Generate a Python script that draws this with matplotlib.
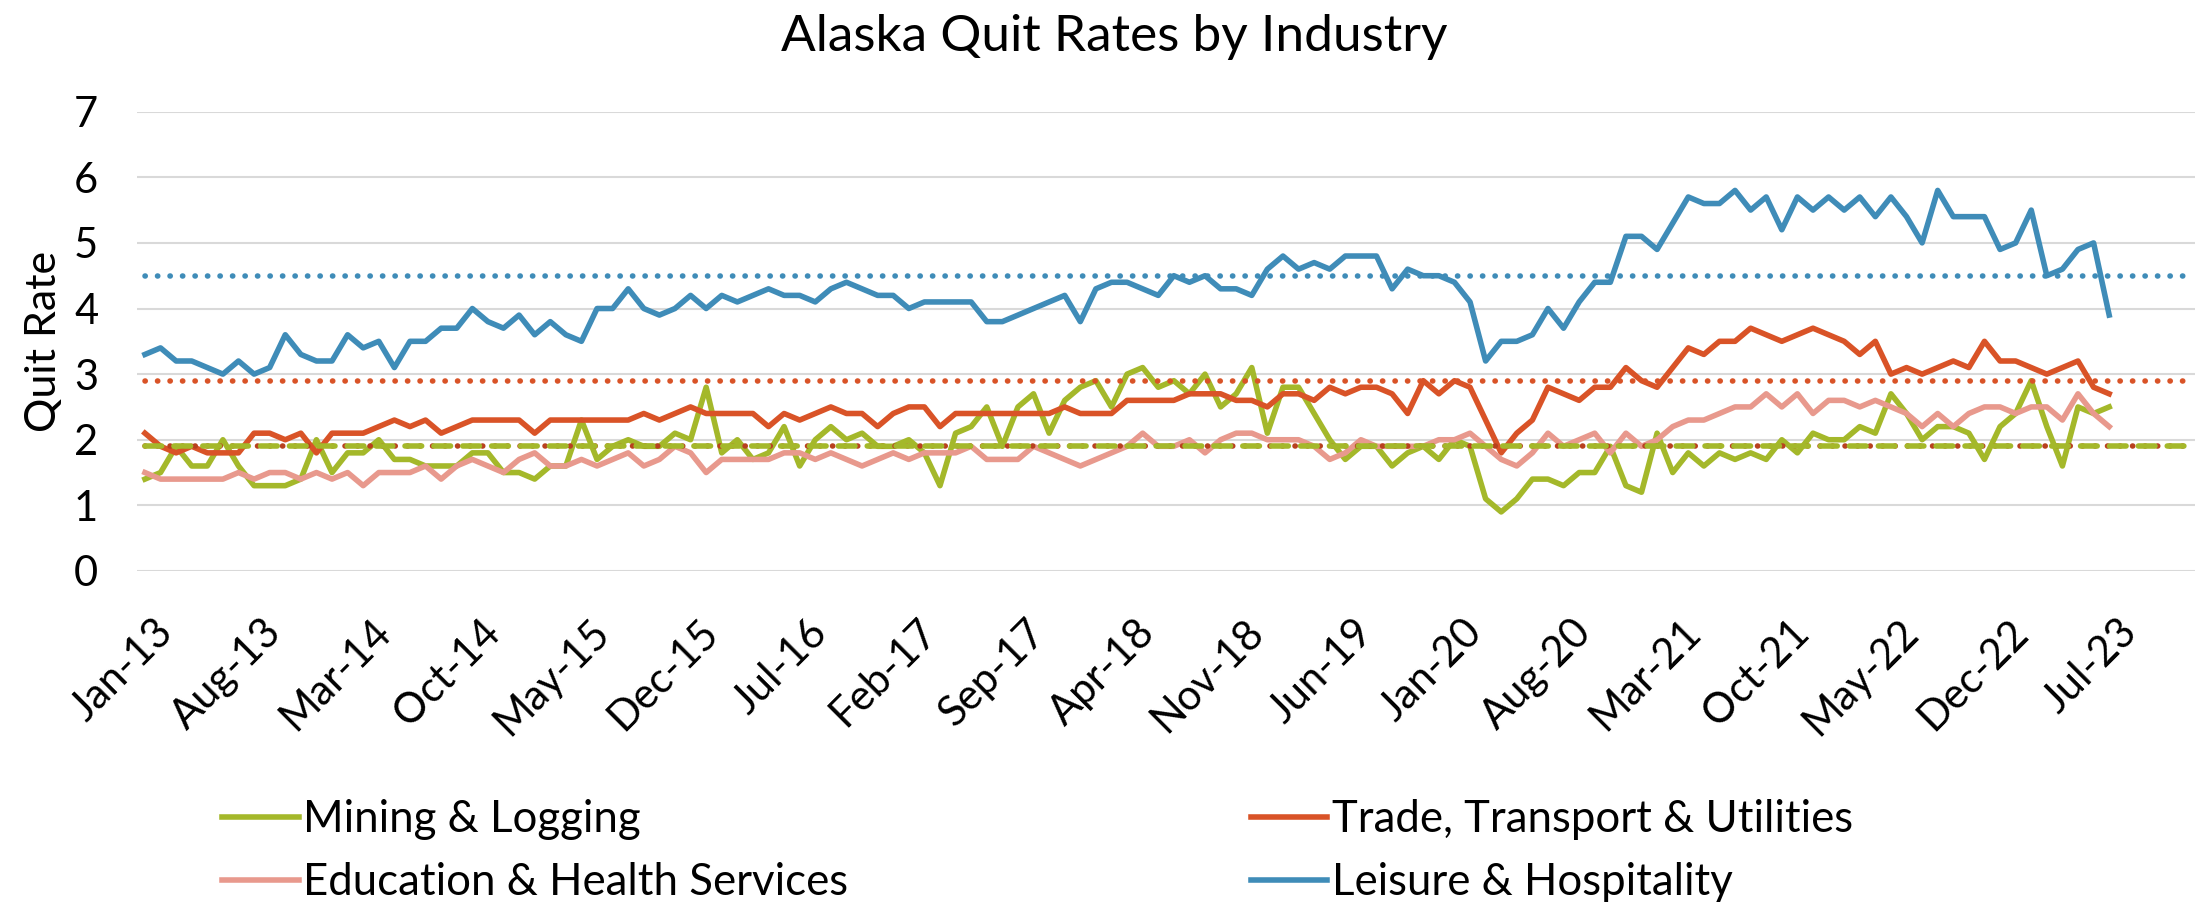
import matplotlib
matplotlib.use("Agg")
import matplotlib.pyplot as plt
import matplotlib.transforms as mtransforms
import numpy as np

# Monthly quit rates, Jan-13 .. Jul-23
mining = [1.4, 1.5, 1.9, 1.6, 1.6, 2.0, 1.6, 1.3, 1.3, 1.3, 1.4, 2.0, 1.5, 1.8, 1.8, 2.0, 1.7, 1.7, 1.6, 1.6, 1.6, 1.8,
          1.8, 1.5, 1.5, 1.4, 1.6, 1.6, 2.3, 1.7, 1.9, 2.0, 1.9, 1.9, 2.1, 2.0, 2.8, 1.8, 2.0, 1.7, 1.8, 2.2,
          1.6, 2.0, 2.2, 2.0, 2.1, 1.9, 1.9, 2.0, 1.8, 1.3, 2.1, 2.2, 2.5, 1.9, 2.5, 2.7, 2.1, 2.6, 2.8, 2.9, 2.5,
          3.0, 3.1, 2.8, 2.9, 2.7, 3.0, 2.5, 2.7, 3.1, 2.1, 2.8, 2.8, 2.4, 2.0, 1.7, 1.9, 1.9, 1.6, 1.8, 1.9, 1.7,
          2.0, 1.9, 1.1, 0.9, 1.1, 1.4, 1.4, 1.3, 1.5, 1.5, 1.9, 1.3, 1.2, 2.1, 1.5, 1.8, 1.6, 1.8, 1.7, 1.8, 1.7,
          2.0, 1.8, 2.1, 2.0, 2.0, 2.2, 2.1, 2.7, 2.4, 2.0, 2.2, 2.2, 2.1, 1.7, 2.2, 2.4, 2.9, 2.2, 1.6, 2.5, 2.4, 2.5]

trade = [2.1, 1.9, 1.8, 1.9, 1.8, 1.8, 1.8, 2.1, 2.1, 2.0, 2.1, 1.8, 2.1, 2.1, 2.1, 2.2, 2.3, 2.2, 2.3, 2.1, 2.2, 2.3,
         2.3, 2.3, 2.3, 2.1, 2.3, 2.3, 2.3, 2.3, 2.3, 2.3, 2.4, 2.3, 2.4, 2.5, 2.4, 2.4, 2.4, 2.4, 2.2, 2.4,
         2.3, 2.4, 2.5, 2.4, 2.4, 2.2, 2.4, 2.5, 2.5, 2.2, 2.4, 2.4, 2.4, 2.4, 2.4, 2.4, 2.4, 2.5, 2.4, 2.4, 2.4,
         2.6, 2.6, 2.6, 2.6, 2.7, 2.7, 2.7, 2.6, 2.6, 2.5, 2.7, 2.7, 2.6, 2.8, 2.7, 2.8, 2.8, 2.7, 2.4, 2.9, 2.7,
         2.9, 2.8, 2.3, 1.8, 2.1, 2.3, 2.8, 2.7, 2.6, 2.8, 2.8, 3.1, 2.9, 2.8, 3.1, 3.4, 3.3, 3.5, 3.5, 3.7, 3.6,
         3.5, 3.6, 3.7, 3.6, 3.5, 3.3, 3.5, 3.0, 3.1, 3.0, 3.1, 3.2, 3.1, 3.5, 3.2, 3.2, 3.1, 3.0, 3.1, 3.2, 2.8, 2.7]

education = [1.5, 1.4, 1.4, 1.4, 1.4, 1.4, 1.5, 1.4, 1.5, 1.5, 1.4, 1.5, 1.4, 1.5, 1.3, 1.5, 1.5, 1.5, 1.6, 1.4, 1.6, 1.7,
             1.6, 1.5, 1.7, 1.8, 1.6, 1.6, 1.7, 1.6, 1.7, 1.8, 1.6, 1.7, 1.9, 1.8, 1.5, 1.7, 1.7, 1.7, 1.7, 1.8,
             1.8, 1.7, 1.8, 1.7, 1.6, 1.7, 1.8, 1.7, 1.8, 1.8, 1.8, 1.9, 1.7, 1.7, 1.7, 1.9, 1.8, 1.7, 1.6, 1.7, 1.8,
             1.9, 2.1, 1.9, 1.9, 2.0, 1.8, 2.0, 2.1, 2.1, 2.0, 2.0, 2.0, 1.9, 1.7, 1.8, 2.0, 1.9, 1.9, 1.9, 1.9, 2.0,
             2.0, 2.1, 1.9, 1.7, 1.6, 1.8, 2.1, 1.9, 2.0, 2.1, 1.8, 2.1, 1.9, 2.0, 2.2, 2.3, 2.3, 2.4, 2.5, 2.5, 2.7,
             2.5, 2.7, 2.4, 2.6, 2.6, 2.5, 2.6, 2.5, 2.4, 2.2, 2.4, 2.2, 2.4, 2.5, 2.5, 2.4, 2.5, 2.5, 2.3, 2.7, 2.4, 2.2]

leisure = [3.3, 3.4, 3.2, 3.2, 3.1, 3.0, 3.2, 3.0, 3.1, 3.6, 3.3, 3.2, 3.2, 3.6, 3.4, 3.5, 3.1, 3.5, 3.5, 3.7, 3.7, 4.0,
           3.8, 3.7, 3.9, 3.6, 3.8, 3.6, 3.5, 4.0, 4.0, 4.3, 4.0, 3.9, 4.0, 4.2, 4.0, 4.2, 4.1, 4.2, 4.3, 4.2,
           4.2, 4.1, 4.3, 4.4, 4.3, 4.2, 4.2, 4.0, 4.1, 4.1, 4.1, 4.1, 3.8, 3.8, 3.9, 4.0, 4.1, 4.2, 3.8, 4.3, 4.4,
           4.4, 4.3, 4.2, 4.5, 4.4, 4.5, 4.3, 4.3, 4.2, 4.6, 4.8, 4.6, 4.7, 4.6, 4.8, 4.8, 4.8, 4.3, 4.6, 4.5, 4.5,
           4.4, 4.1, 3.2, 3.5, 3.5, 3.6, 4.0, 3.7, 4.1, 4.4, 4.4, 5.1, 5.1, 4.9, 5.3, 5.7, 5.6, 5.6, 5.8, 5.5, 5.7,
           5.2, 5.7, 5.5, 5.7, 5.5, 5.7, 5.4, 5.7, 5.4, 5.0, 5.8, 5.4, 5.4, 5.4, 4.9, 5.0, 5.5, 4.5, 4.6, 4.9, 5.0, 3.9]

# long-run averages (horizontal reference lines)
avg_leisure = 4.5
avg_trade = 2.9
avg_education = 1.9
avg_mining = 1.9

tick_labels = ["Jan-13", "Aug-13", "Mar-14", "Oct-14", "May-15", "Dec-15", "Jul-16", "Feb-17", "Sep-17",
               "Apr-18", "Nov-18", "Jun-19", "Jan-20", "Aug-20", "Mar-21", "Oct-21", "May-22", "Dec-22", "Jul-23"]
n_categories = 132  # axis runs Jan-13 .. Dec-23

GREEN = "#A4B82A"
RED = "#D95327"
PINK = "#E8998D"
BLUE = "#3F8CB8"
DARKRED = "#B8401E"

plt.rcParams["font.family"] = ["Lato", "DejaVu Sans"]

fig = plt.figure(figsize=(21.98, 9.02), dpi=100)
ax = fig.add_axes([0.0624, 0.367, 0.9362, 0.5092])

x = np.arange(len(leisure))
lw = 4.0
l_min, = ax.plot(x, mining, color=GREEN, lw=lw, solid_joinstyle="round", label="Mining & Logging", zorder=3)
l_trd, = ax.plot(x, trade, color=RED, lw=lw, solid_joinstyle="round", label="Trade, Transport & Utilities", zorder=3)
l_edu, = ax.plot(x, education, color=PINK, lw=lw, solid_joinstyle="round", label="Education & Health Services", zorder=3)
l_lei, = ax.plot(x, leisure, color=BLUE, lw=lw, solid_joinstyle="round", label="Leisure & Hospitality", zorder=3)

dot = (0, (0.05, 2.2))
xa = [0, n_categories - 1]
ax.plot(xa, [avg_leisure] * 2, color=BLUE, lw=lw, ls=dot, dash_capstyle="round", zorder=4)
ax.plot(xa, [avg_trade] * 2, color=RED, lw=lw, ls=dot, dash_capstyle="round", zorder=4)
ax.plot(xa, [avg_education] * 2, color=DARKRED, lw=lw, ls=dot, dash_capstyle="round", zorder=4)
ax.plot(xa, [avg_mining] * 2, color=GREEN, lw=lw, ls=(0, (3.0, 2.2)), dash_capstyle="round", zorder=5)

ax.set_xlim(-0.5, n_categories - 0.5)
ax.set_ylim(0, 7)
ax.set_yticks(range(0, 8))
ax.set_xticks(np.arange(0, len(leisure), 7))
ax.set_xticklabels(tick_labels, rotation=45, ha="right", va="top", rotation_mode="anchor")
ax.tick_params(axis="both", length=0, labelsize=30)
ax.tick_params(axis="y", pad=28)
ax.tick_params(axis="x", pad=30)
off = mtransforms.ScaledTranslation(0.08, 0, fig.dpi_scale_trans)
for lbl in ax.get_xticklabels():
    lbl.set_transform(lbl.get_transform() + off)

ax.grid(axis="y", color="#D9D9D9", lw=1.5)
ax.set_axisbelow(True)
for s in ax.spines.values():
    s.set_visible(False)

ax.set_ylabel("Quit Rate", fontsize=31)
ax.yaxis.set_label_coords(-0.036, 0.5)
fig.suptitle("Alaska Quit Rates by Industry", fontsize=37, y=0.985, x=0.507)

leg_kw = dict(frameon=False, fontsize=31.5, handlelength=1.75, handletextpad=0.1,
              labelspacing=0.5, borderaxespad=0, borderpad=0)
fig.legend(handles=[l_min, l_edu], loc="upper left", bbox_to_anchor=(0.101, 0.114), **leg_kw)
fig.legend(handles=[l_trd, l_lei], loc="upper left", bbox_to_anchor=(0.569, 0.114), **leg_kw)

fig.savefig("out.png", dpi=100)
